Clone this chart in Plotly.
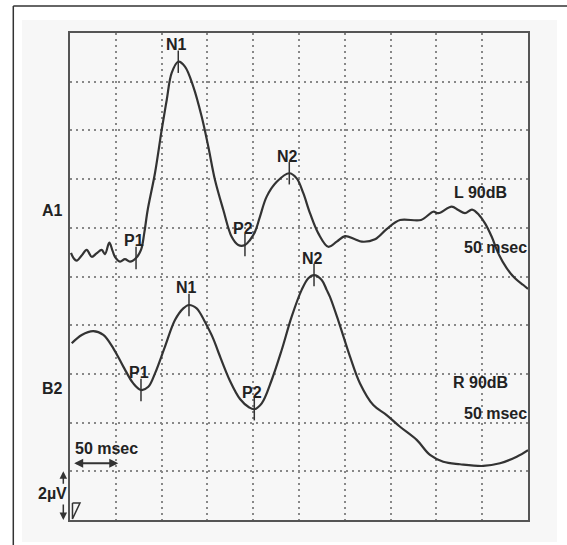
import plotly.graph_objects as go

# ---- data (x: msec, y: µV, offset traces) ----
a1_t = [1.1, 4.0, 7.3, 12.5, 18.2, 23.7, 29.0, 34.6, 38.2, 42.9, 46.5, 49.1, 54.6, 60.0, 65.5,
        72.1, 77.5, 81.1, 84.8,
        92.8, 100.1, 105.6, 111.0, 118.2, 125.5, 134.6, 143.8, 151.0, 158.3, 167.4, 176.5, 183.7,
        191.0, 196.5, 202.0, 207.4, 214.7, 225.7, 239.4, 247.5, 254.7, 262.0, 271.1, 282.0, 291.2,
        300.2, 311.1, 318.5, 333.0, 345.7, 360.3, 383.2, 396.6, 402.1, 416.7, 423.9, 431.2, 438.9,
        446.5, 453.1, 460.4, 467.6, 476.7, 485.8, 494.9, 500.0]
a1_v = [10.97, 10.75, 10.65, 10.85, 11.09, 10.81, 10.95, 11.09, 10.92, 11.39, 11.05, 10.81, 10.61,
        10.71, 10.61, 10.76, 11.09,
        11.79, 12.73, 14.25, 16.02, 17.25, 18.36, 18.82, 18.62, 17.80, 16.56, 15.33, 13.96, 12.73,
        11.63, 11.29, 11.29, 11.50, 11.84, 12.46, 13.28, 13.89, 14.24, 14.03, 13.42, 12.60, 11.77,
        11.22, 11.43, 11.66, 11.53, 11.43, 11.53, 11.95, 12.32, 12.32, 12.66, 12.60, 12.87, 12.73,
        12.60, 12.75, 12.53, 12.18, 11.63, 10.95, 10.34, 9.93, 9.65, 9.49]

b2_t = [1.9, 12.8, 25.4, 36.4, 47.3, 58.2, 69.1, 77.5, 85.5, 92.8, 103.7, 114.6, 123.7, 129.9,
        138.3, 142.0, 147.4, 156.1, 161.9, 174.7, 185.6, 195.7, 201.2, 209.3, 220.2, 231.1, 242.0,
        252.9, 260.2, 266.4, 274.8, 280.2, 283.8, 292.9, 305.7, 316.6, 331.1, 345.7, 360.3, 378.5,
        393.0, 407.5, 425.8, 451.2, 469.4, 487.7, 500.0]
b2_v = [7.26, 7.60, 7.76, 7.60, 7.05, 6.30, 5.61, 5.34, 5.47, 6.02, 7.12, 8.21, 8.69, 8.83, 8.69,
        8.50, 8.13, 7.47, 6.90, 5.71, 4.97, 4.62, 4.55, 4.79, 5.75, 6.98, 8.35, 9.45, 9.93, 10.06,
        9.86, 9.45, 9.16, 8.19, 6.71, 5.61, 4.72, 4.31, 3.83, 3.29, 2.67, 2.39, 2.29, 2.22, 2.33,
        2.60, 2.87]

peak_names = ["P1", "N1", "P2", "N2"]
a1_peak_t = [72.1, 118.2, 191.0, 239.4]
a1_peak_v = [10.76, 18.82, 11.29, 14.24]
b2_peak_t = [77.5, 129.9, 201.2, 266.4]
b2_peak_v = [5.34, 8.83, 4.55, 10.06]

# side labels: (text, x msec, y µV)
side_labels = [("A1", -18.6, 12.69), ("B2", -18.6, 5.38),
               ("L 90dB", 447.6, 13.47), ("50 msec", 464.5, 11.19),
               ("R 90dB", 448.1, 5.63), ("50 msec", 464.0, 4.37),
               ("50 msec", 39.8, 2.94), ("2µV", -18.6, 1.07)]

# calibration: 50 msec horizontal bar, 2 µV vertical bar
cal_t = [2.9, 52.7]
cal_t_y = 2.33
cal_v_x = -7.3
cal_v = [0.0, 2.0]
stim_x = [2.7, 10.9, 2.7, 2.7]
stim_y = [0.70, 0.70, 0.04, 0.70]

X_RANGE = [0, 500]
Y_RANGE = [0, 20]

TXT = dict(family="Liberation Sans, Arial, sans-serif", size=16, color="#222")
LINE = "#333"


def px(x):
    return (x - X_RANGE[0]) / (X_RANGE[1] - X_RANGE[0])


def py(y):
    return (y - Y_RANGE[0]) / (Y_RANGE[1] - Y_RANGE[0])


fig = go.Figure()
for t, v in [(a1_t, a1_v), (b2_t, b2_v)]:
    fig.add_trace(go.Scatter(x=t, y=v, mode="lines",
                             line=dict(color=LINE, width=2.2, shape="spline", smoothing=1.0),
                             hoverinfo="skip", cliponaxis=False))
for pt, pv in [(a1_peak_t, a1_peak_v), (b2_peak_t, b2_peak_v)]:
    fig.add_trace(go.Scatter(x=pt, y=pv, mode="markers",
                             marker=dict(symbol="line-ns", size=16,
                                         line=dict(color=LINE, width=1.5)),
                             hoverinfo="skip"))
    for name, xx, yy in zip(peak_names, pt, pv):
        fig.add_annotation(x=xx, y=yy, text="<b>%s</b>" % name, showarrow=False,
                           yshift=17, xshift=-2, font=TXT)

for txt, xx, yy in side_labels:
    fig.add_annotation(x=px(xx), y=py(yy), xref="paper", yref="paper",
                       xanchor="center", yanchor="middle",
                       text="<b>%s</b>" % txt, showarrow=False, font=TXT)

# stimulus marker
fig.add_trace(go.Scatter(x=stim_x, y=stim_y, mode="lines",
                         line=dict(color=LINE, width=1.5), hoverinfo="skip", cliponaxis=False))

# horizontal calibration arrow (double-headed)
fig.add_annotation(x=cal_t[1], y=cal_t_y, ax=cal_t[0], ay=cal_t_y, axref="x", ayref="y",
                   xref="x", yref="y", showarrow=True, arrowhead=2, arrowsize=1,
                   arrowwidth=1.8, arrowcolor=LINE, arrowside="end+start", text="")
# vertical calibration arrows (outside the plot area -> paper refs, pixel tails)
fig.add_annotation(x=px(cal_v_x), y=py(cal_v[1]), xref="paper", yref="paper",
                   ax=0, ay=14, showarrow=True, arrowhead=2, arrowsize=1, arrowwidth=1.5,
                   arrowcolor=LINE, text="")
fig.add_annotation(x=px(cal_v_x), y=py(cal_v[0]), xref="paper", yref="paper",
                   ax=0, ay=-17, showarrow=True, arrowhead=2, arrowsize=1, arrowwidth=1.5,
                   arrowcolor=LINE, text="")

# background panel and outer frame (top + left edges)
fig.add_shape(type="rect", xref="paper", yref="paper", x0=-0.1048, x1=1.0633,
              y0=-0.0452, y1=1.0267, fillcolor="#f7f7f7", line=dict(width=0), layer="below")
fig.add_shape(type="line", xref="paper", yref="paper", x0=-0.1238, x1=1.09,
              y0=1.0554, y1=1.0554, line=dict(color="#333", width=1.5))
fig.add_shape(type="line", xref="paper", yref="paper", x0=-0.1238, x1=-0.1238,
              y0=-0.06, y1=1.0554, line=dict(color="#333", width=1.5))

axis_common = dict(showgrid=True, gridcolor="#888", gridwidth=1.5, griddash="2px,4px",
                   showline=True, mirror=True, linecolor="#555", linewidth=1.5,
                   zeroline=False, showticklabels=False, ticks="")
fig.update_xaxes(range=X_RANGE, dtick=50, tick0=0, **axis_common)
fig.update_yaxes(range=Y_RANGE, dtick=2, tick0=0, **axis_common)

fig.update_layout(width=567, height=545, showlegend=False,
                  margin=dict(l=70, r=39, t=33, b=25),
                  paper_bgcolor="white", plot_bgcolor="rgba(0,0,0,0)")

fig.write_html("out.html")
